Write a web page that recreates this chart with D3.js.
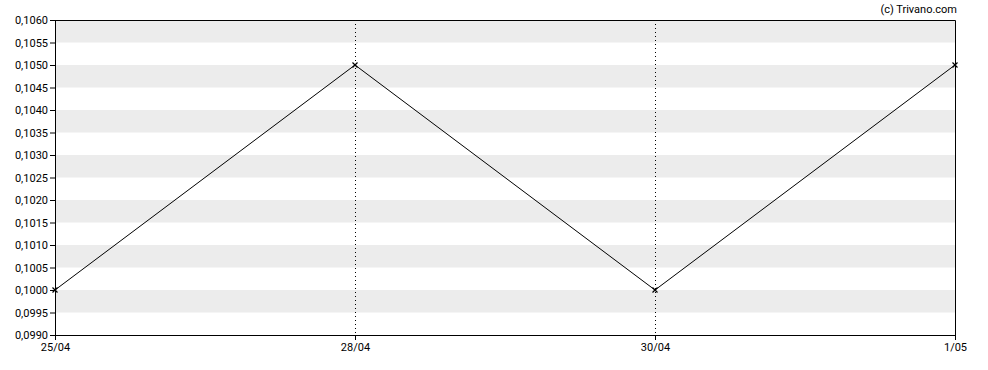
<!DOCTYPE html>
<html>
<head>
<meta charset="utf-8">
<script src="https://cdn.jsdelivr.net/npm/d3@7"></script>
<style>
body { margin: 0; background: #fff; }
svg text { font-family: Roboto, sans-serif; font-size: 11px; fill: #000; }
</style>
</head>
<body>
<svg width="988" height="370"></svg>
<script>
// data
dates = ['25/04', '28/04', '30/04', '1/05'];
prices = [0.1000, 0.1050, 0.1000, 0.1050];
yTicks = d3.range(0, 15).map((i) => +(0.0990 + i * 0.0005).toFixed(4));

svg = d3.select('svg');

left = 55; top_ = 20; width = 900; height = 315;

chart = svg.append('g')
    .attr('transform', `translate(${left}, ${top_})`);

xScale = d3.scalePoint()
    .domain(dates)
    .range([0, width]);

yScale = d3.scaleLinear()
    .domain([0.0990, 0.1060])
    .range([height, 0]);

fmt = (v) => v.toFixed(4).replace('.', ',');

// striped bands (grey from every odd tick up to the next one)
chart.selectAll('.band')
    .data(yTicks.filter((t, i) => i % 2 == 1))
    .enter()
    .append('rect')
    .attr('x', 0)
    .attr('width', width)
    .attr('y', (t) => yScale(t + 0.0005))
    .attr('height', (t) => yScale(t) - yScale(t + 0.0005))
    .attr('fill', '#ececec');

// vertical dotted lines for inner dates
chart.selectAll('.vline')
    .data(dates.slice(1, -1))
    .enter()
    .append('line')
    .attr('x1', (d) => Math.round(xScale(d)) + 0.5)
    .attr('x2', (d) => Math.round(xScale(d)) + 0.5)
    .attr('y1', 0)
    .attr('y2', height)
    .attr('stroke', '#000')
    .attr('stroke-dasharray', '1,3');

// frame top / right
chart.append('path')
    .attr('d', `M0,0.5H${width + 0.5}V${height}`)
    .attr('fill', 'none')
    .attr('stroke', '#000');

// axes
yAxis = chart.append('g')
    .call(d3.axisLeft(yScale).tickValues(yTicks).tickFormat(fmt).tickSize(5).tickPadding(2));
xAxis = chart.append('g')
    .attr('transform', `translate(0, ${height})`)
    .call(d3.axisBottom(xScale).tickSize(5).tickPadding(3));
[yAxis, xAxis].forEach((a) => {
    a.selectAll('path, line').attr('stroke', '#000');
    a.selectAll('text').style('font-size', '11px').style('font-family', 'Roboto, sans-serif');
});
yAxis.select('.domain').attr('d', `M0.5,0V${height}`);
xAxis.select('.domain').attr('d', `M0,0.5H${width + 0.5}`);

// price line
line = d3.line()
    .x((d, i) => xScale(dates[i]))
    .y((d) => yScale(d));

chart.append('path')
    .datum(prices)
    .attr('d', line)
    .attr('fill', 'none')
    .attr('stroke', '#000')
    .attr('stroke-width', 1);

// x markers
chart.selectAll('.mark')
    .data(prices)
    .enter()
    .append('path')
    .attr('transform', (d, i) => `translate(${xScale(dates[i])}, ${yScale(d)})`)
    .attr('d', 'M-2.5,-2.5L2.5,2.5M-2.5,2.5L2.5,-2.5')
    .attr('stroke', '#000')
    .attr('stroke-width', 1.2);

svg.append('text')
    .attr('x', 957)
    .attr('y', 13)
    .attr('text-anchor', 'end')
    .text('(c) Trivano.com');
</script>
</body>
</html>
